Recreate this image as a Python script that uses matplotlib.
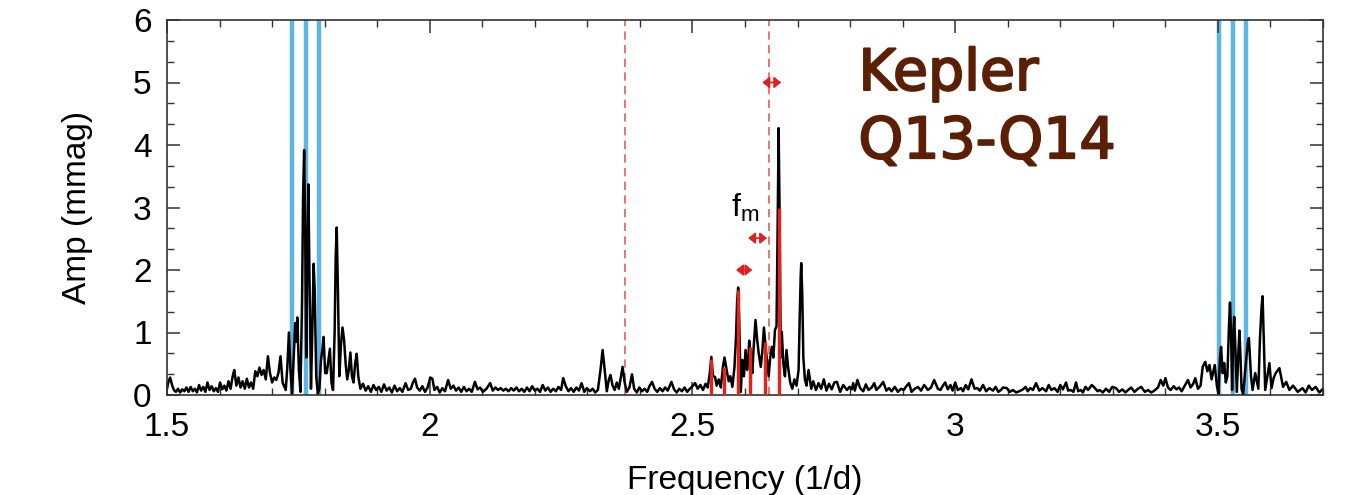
import matplotlib.pyplot as plt
import matplotlib.patheffects as pe
from matplotlib.ticker import MultipleLocator

# amplitude spectrum (freq in 1/d, amp in mmag)
# 1.50 - 1.72 : noise on the left
freq_a = [1.500, 1.503, 1.506, 1.510, 1.513, 1.517,
          1.521, 1.525, 1.529, 1.533, 1.537, 1.541, 1.545, 1.549, 1.553, 1.557,
          1.561, 1.565, 1.569, 1.573, 1.577, 1.581, 1.585, 1.589, 1.593, 1.597,
          1.601, 1.605, 1.609, 1.613, 1.617, 1.621,
          1.625, 1.628,
          1.632, 1.636, 1.640, 1.644, 1.648, 1.652, 1.656, 1.660, 1.664, 1.668,
          1.672, 1.676, 1.680, 1.684, 1.688, 1.692, 1.696, 1.700, 1.704, 1.708,
          1.712, 1.716, 1.720]
amp_a = [0.10, 0.22, 0.28, 0.15, 0.08, 0.05,
         0.10, 0.04, 0.09, 0.06, 0.12, 0.05, 0.13, 0.06, 0.10, 0.04,
         0.16, 0.07, 0.13, 0.05, 0.20, 0.08, 0.14, 0.06, 0.11, 0.05,
         0.20, 0.09, 0.15, 0.07, 0.22, 0.10,
         0.30, 0.40,
         0.15, 0.28, 0.12, 0.22, 0.10, 0.26, 0.12, 0.20, 0.10, 0.38,
         0.30, 0.44, 0.32, 0.40, 0.25, 0.62, 0.35, 0.20, 0.28, 0.24,
         0.35, 0.62, 0.20]

# 1.72 - 1.87 : first group of peaks
freq_b = [1.726, 1.729, 1.732, 1.735, 1.738, 1.741, 1.744, 1.746, 1.748, 1.751,
          1.754, 1.757, 1.759, 1.761, 1.763, 1.765, 1.767, 1.769, 1.771, 1.774,
          1.777, 1.779, 1.781, 1.784, 1.787, 1.790, 1.793, 1.796, 1.798, 1.801,
          1.804, 1.807, 1.810, 1.813, 1.816, 1.819, 1.821, 1.823, 1.825, 1.828,
          1.831, 1.834, 1.837, 1.840, 1.843, 1.846, 1.849, 1.852, 1.855, 1.858,
          1.861, 1.864, 1.868]
amp_b = [0.08, 0.45, 1.00, 0.40, 0.02, 0.60, 1.15, 0.85, 1.24, 0.40,
         0.05, 1.50, 3.20, 3.92, 2.60, 0.60, 2.20, 3.37, 2.00, 0.10,
         1.20, 2.10, 1.70, 0.30, 0.02, 0.10, 0.55, 0.75, 0.93, 0.35,
         0.35, 0.55, 0.74, 0.20, 0.08, 1.00, 2.20, 2.68, 1.80, 0.30,
         0.80, 1.08, 0.88, 0.50, 0.25, 0.40, 0.68, 0.30, 0.20, 0.50,
         0.66, 0.30, 0.10]

# 1.87 - 2.53 : noise in the middle
freq_c = [1.873, 1.878, 1.883, 1.888, 1.893, 1.898, 1.903, 1.908, 1.913, 1.918,
          1.923, 1.928, 1.933, 1.938, 1.943, 1.948, 1.954, 1.959, 1.964, 1.968,
          1.972, 1.976, 1.981, 1.986, 1.991, 1.996, 2.001, 2.005, 2.009, 2.014,
          2.019, 2.024, 2.029, 2.035, 2.040, 2.045, 2.050, 2.055, 2.060, 2.065,
          2.070, 2.075, 2.080, 2.086, 2.091, 2.096, 2.101, 2.108, 2.115, 2.120,
          2.125, 2.130, 2.135, 2.140, 2.145, 2.150, 2.155, 2.160, 2.165, 2.170,
          2.175, 2.180, 2.185, 2.190, 2.195, 2.200, 2.205, 2.210, 2.215, 2.220,
          2.225, 2.230, 2.235, 2.240, 2.245, 2.250, 2.254, 2.259, 2.264, 2.269,
          2.274, 2.279, 2.284, 2.289, 2.294, 2.299, 2.305, 2.310, 2.315, 2.320,
          2.325, 2.329, 2.333, 2.337, 2.341, 2.344, 2.348, 2.352, 2.356, 2.360,
          2.364, 2.367, 2.371, 2.375, 2.380, 2.385, 2.389, 2.394, 2.399, 2.404,
          2.409, 2.414, 2.418, 2.423, 2.428, 2.433, 2.438, 2.443, 2.448, 2.453,
          2.460, 2.465, 2.470, 2.475, 2.480, 2.485, 2.490, 2.495, 2.500, 2.505,
          2.510, 2.515, 2.520, 2.525, 2.529]
amp_c = [0.18, 0.07, 0.14, 0.05, 0.16, 0.08, 0.13, 0.05, 0.17, 0.07,
         0.12, 0.04, 0.15, 0.06, 0.11, 0.05, 0.19, 0.08, 0.10, 0.20,
         0.26, 0.12, 0.07, 0.14, 0.05, 0.12, 0.28, 0.26, 0.08, 0.13,
         0.04, 0.11, 0.06, 0.24, 0.10, 0.15, 0.07, 0.12, 0.05, 0.13,
         0.06, 0.10, 0.05, 0.21, 0.09, 0.12, 0.05, 0.10, 0.19, 0.07,
         0.12, 0.08, 0.11, 0.07, 0.10, 0.06, 0.11, 0.07, 0.12, 0.06,
         0.10, 0.05, 0.12, 0.06, 0.14, 0.07, 0.10, 0.05, 0.16, 0.07,
         0.12, 0.05, 0.10, 0.06, 0.13, 0.08, 0.27, 0.14, 0.06, 0.11,
         0.05, 0.12, 0.07, 0.19, 0.05, 0.11, 0.06, 0.10, 0.04, 0.08,
         0.40, 0.72, 0.40, 0.06, 0.25, 0.32, 0.15, 0.08, 0.20, 0.10,
         0.30, 0.45, 0.20, 0.05, 0.12, 0.33, 0.10, 0.04, 0.12, 0.06,
         0.10, 0.05, 0.14, 0.21, 0.10, 0.05, 0.11, 0.06, 0.12, 0.07,
         0.21, 0.09, 0.04, 0.10, 0.06, 0.12, 0.05, 0.10, 0.14, 0.19,
         0.10, 0.16, 0.08, 0.18, 0.12]

# 2.53 - 2.78 : central group of peaks
freq_d = [2.533, 2.536, 2.539, 2.543, 2.546, 2.550, 2.554, 2.558, 2.561, 2.565,
          2.569, 2.572, 2.576, 2.580, 2.583, 2.585, 2.587, 2.589, 2.592, 2.595,
          2.598, 2.601, 2.604, 2.606, 2.608, 2.611, 2.614, 2.616, 2.620, 2.623,
          2.626, 2.630, 2.633, 2.636, 2.640, 2.643, 2.645, 2.648, 2.651, 2.654,
          2.657, 2.660, 2.662, 2.664, 2.666, 2.668, 2.670, 2.673, 2.676, 2.679,
          2.682, 2.686, 2.690, 2.694, 2.698, 2.702, 2.704, 2.706, 2.707, 2.709,
          2.711, 2.714, 2.717, 2.721, 2.726, 2.730, 2.735, 2.740, 2.745, 2.750,
          2.755, 2.760, 2.765, 2.770, 2.775]
amp_d = [0.35, 0.61, 0.30, 0.29, 0.15, 0.25, 0.12, 0.45, 0.60, 0.40,
         0.22, 0.30, 0.13, 0.45, 0.95, 1.50, 1.72, 1.20, 0.05, 0.56,
         0.30, 0.72, 0.40, 0.55, 0.87, 0.50, 0.35, 0.70, 1.20, 0.90,
         0.67, 0.45, 0.70, 1.08, 0.70, 0.45, 0.30, 0.60, 0.77, 0.60,
         1.04, 1.10, 2.60, 4.27, 2.80, 0.60, 1.01, 0.50, 0.30, 0.72,
         0.45, 0.20, 0.10, 0.25, 0.15, 0.40, 1.20, 1.90, 2.11, 1.60,
         0.60, 0.25, 0.15, 0.40, 0.10, 0.22, 0.08, 0.19, 0.10, 0.25,
         0.07, 0.18, 0.09, 0.20, 0.21]

# 2.78 - 3.27 : noise on the right
freq_e = [2.781, 2.787, 2.794, 2.799, 2.803, 2.806, 2.809, 2.814, 2.819, 2.825,
          2.830, 2.835, 2.841, 2.846, 2.850, 2.857, 2.863, 2.869, 2.874, 2.879,
          2.885, 2.891, 2.897, 2.902, 2.907, 2.912, 2.917, 2.923, 2.929, 2.935,
          2.941, 2.948, 2.954, 2.960, 2.967, 2.972, 2.976, 2.981, 2.986, 2.991,
          2.995, 3.000, 3.005, 3.011, 3.015, 3.020, 3.025, 3.031, 3.037, 3.042,
          3.047, 3.053, 3.059, 3.065, 3.072, 3.077, 3.082, 3.087, 3.091, 3.098,
          3.104, 3.110, 3.116, 3.122, 3.129, 3.134, 3.138, 3.143, 3.148, 3.154,
          3.160, 3.166, 3.173, 3.178, 3.183, 3.189, 3.195, 3.200, 3.205, 3.211,
          3.215, 3.220, 3.225, 3.230, 3.234, 3.239, 3.243, 3.248, 3.253, 3.260,
          3.266, 3.271]
amp_e = [0.05, 0.16, 0.08, 0.13, 0.09, 0.19, 0.07, 0.24, 0.11, 0.06,
         0.17, 0.08, 0.12, 0.19, 0.08, 0.14, 0.21, 0.07, 0.11, 0.06,
         0.13, 0.05, 0.10, 0.08, 0.14, 0.19, 0.05, 0.10, 0.13, 0.07,
         0.16, 0.08, 0.12, 0.24, 0.10, 0.08, 0.14, 0.20, 0.09, 0.16,
         0.07, 0.20, 0.08, 0.11, 0.06, 0.16, 0.09, 0.25, 0.10, 0.11,
         0.07, 0.16, 0.06, 0.11, 0.07, 0.13, 0.05, 0.08, 0.12, 0.11,
         0.05, 0.08, 0.04, 0.06, 0.09, 0.13, 0.06, 0.11, 0.08, 0.19,
         0.07, 0.11, 0.06, 0.16, 0.08, 0.11, 0.05, 0.16, 0.09, 0.20,
         0.07, 0.08, 0.05, 0.20, 0.06, 0.08, 0.04, 0.13, 0.08, 0.16,
         0.11, 0.06]

# 3.27 - 3.70 : right group of peaks and the tail
freq_f = [3.275, 3.281, 3.287, 3.293, 3.299, 3.306, 3.312, 3.318, 3.324, 3.329,
          3.335, 3.341, 3.348, 3.354, 3.361, 3.367, 3.373, 3.379, 3.386, 3.391,
          3.396, 3.400, 3.405, 3.410, 3.416, 3.421, 3.426, 3.431, 3.437, 3.443,
          3.448, 3.453, 3.457, 3.462, 3.467, 3.471, 3.476, 3.480, 3.484, 3.488,
          3.494, 3.498, 3.501, 3.504, 3.506, 3.509, 3.512, 3.515, 3.518, 3.521,
          3.523, 3.525, 3.527, 3.529, 3.531, 3.533, 3.536, 3.539, 3.541, 3.543,
          3.545, 3.548, 3.553, 3.557, 3.559, 3.561, 3.563, 3.566, 3.571, 3.577,
          3.580, 3.583, 3.585, 3.587, 3.590, 3.594, 3.598, 3.602, 3.606, 3.610,
          3.617, 3.624, 3.630, 3.636, 3.643, 3.652, 3.661, 3.667, 3.673, 3.679,
          3.686, 3.693, 3.700]
amp_f = [0.08, 0.04, 0.10, 0.05, 0.13, 0.11, 0.05, 0.09, 0.04, 0.08,
         0.12, 0.05, 0.10, 0.13, 0.05, 0.08, 0.04, 0.07, 0.12, 0.24,
         0.15, 0.27, 0.12, 0.08, 0.14, 0.09, 0.12, 0.06, 0.15, 0.24,
         0.12, 0.18, 0.27, 0.10, 0.15, 0.45, 0.53, 0.38, 0.48, 0.25,
         0.48, 0.15, 0.02, 0.60, 0.77, 0.35, 0.51, 0.20, 0.30, 1.10,
         1.48, 1.00, 0.08, 0.90, 1.25, 0.80, 0.05, 0.70, 1.03, 0.60,
         0.10, 0.00, 0.50, 0.85, 0.91, 0.60, 0.30, 0.08, 0.35, 0.10,
         0.90, 1.40, 1.58, 1.00, 0.08, 0.30, 0.51, 0.11, 0.27, 0.35,
         0.43, 0.13, 0.21, 0.08, 0.15, 0.05, 0.11, 0.04, 0.15, 0.08,
         0.13, 0.04, 0.10]

# marked frequencies
blue_freqs = [1.738, 1.764, 1.790, 3.502, 3.528, 3.553]
dashed_freqs = [2.371, 2.646]
stem_freqs = [2.535, 2.560, 2.587, 2.610, 2.639, 2.664]
stem_amps = [0.58, 0.45, 1.68, 0.77, 0.85, 2.99]
arrow_x0 = [2.633, 2.606, 2.583]
arrow_x1 = [2.669, 2.642, 2.614]
arrow_y = [5.0, 2.51, 2.0]

freq = freq_a + freq_b + freq_c + freq_d + freq_e + freq_f
amp = amp_a + amp_b + amp_c + amp_d + amp_e + amp_f

plt.rcParams['font.family'] = ['Liberation Sans', 'DejaVu Sans']
plt.rcParams['mathtext.fontset'] = 'custom'
plt.rcParams['mathtext.rm'] = 'Liberation Sans'

fig = plt.figure(figsize=(13.72, 4.95), dpi=100)
ax = fig.add_axes([167 / 1372, 100 / 495, 1156 / 1372, 375 / 495])

# vertical markers
for f in blue_freqs:
    ax.axvline(f, color='#5bb5e5', lw=3.2, zorder=1)
for f in dashed_freqs:
    ax.axvline(f, color='#e0605a', lw=1.2, dashes=(5, 3.2), zorder=1)

ax.plot(freq, amp, color='black', lw=1.8, zorder=2)
ax.vlines(stem_freqs, 0, stem_amps, color='#e8201a', lw=2.4, zorder=3)

for x0, x1, y in zip(arrow_x0, arrow_x1, arrow_y):
    ax.annotate('', xy=(x1, y), xytext=(x0, y),
                arrowprops=dict(arrowstyle='<|-|>,head_length=0.35,head_width=0.28',
                                color='#e02020', lw=1.2,
                                mutation_scale=12, shrinkA=0, shrinkB=0))

ax.text(2.574, 2.85, 'f$_\\mathregular{m}$', fontsize=23, ha='left', va='baseline')

# label in the corner
brown = '#5b1f06'
stroke = [pe.withStroke(linewidth=1.5, foreground=brown)]
ax.text(2.816, 4.88, 'Kepler', fontsize=41, color=brown, family='DejaVu Sans',
        ha='left', va='baseline', path_effects=stroke)
ax.text(2.816, 3.79, 'Q13-Q14', fontsize=41, color=brown, family='DejaVu Sans',
        ha='left', va='baseline', path_effects=stroke)

ax.set_xlim(1.5, 3.7)
ax.set_ylim(0, 6)
ax.xaxis.set_minor_locator(MultipleLocator(0.1))
ax.yaxis.set_major_locator(MultipleLocator(1))
ax.yaxis.set_minor_locator(MultipleLocator(1 / 3))
ax.set_xticks([1.5, 2, 2.5, 3, 3.5])
ax.set_xticklabels(['1.5', '2', '2.5', '3', '3.5'])

ax.tick_params(which='both', direction='in', top=True, right=True,
               colors='#333333', labelcolor='black', labelsize=24)
ax.tick_params(which='major', length=9.5, width=1.1)
ax.tick_params(which='minor', length=5, width=1.0)
ax.tick_params(axis='x', pad=12)
ax.tick_params(axis='y', pad=11)
for s in ax.spines.values():
    s.set_color('#333333')
    s.set_linewidth(1.2)

ax.set_xlabel('Frequency (1/d)', fontsize=24, labelpad=16)
ax.set_ylabel('Amp (mmag)', fontsize=24, labelpad=29)

fig.savefig('out.png', dpi=100)
